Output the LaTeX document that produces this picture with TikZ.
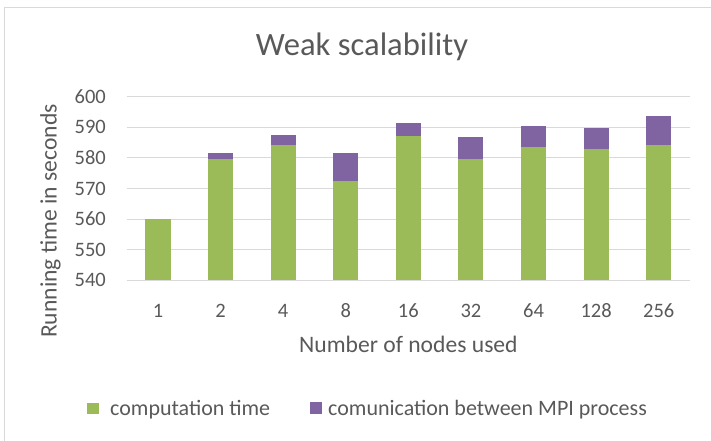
\documentclass[tikz,border=0pt]{standalone}
\usepackage{fontspec}
\setmainfont{Carlito}
\usepackage{tikz}

\definecolor{comp}{HTML}{9BBB59}
\definecolor{comm}{HTML}{8064A2}
\definecolor{txt}{HTML}{595959}
\definecolor{grid}{HTML}{D9D9D9}

\begin{document}
\begin{tikzpicture}
		[x=1pt,y=1pt,
		lbl/.style= {font=\fontsize{20.5}{24}\selectfont,text=txt,inner sep=0pt},
		ttl/.style= {font=\fontsize{23.6}{28}\selectfont,text=txt,inner sep=0pt},
		leg/.style= {font=\fontsize{22}{26}\selectfont,text=txt,inner sep=0pt,anchor=base west},
		sq/.style= {minimum width=12pt,minimum height=11.5pt,inner sep=0pt},
		gl/.style= {draw=grid,line width=1pt}]

		\useasboundingbox (0,0) rectangle (711,441);
		\draw[gl] (4.5,0) -- (4.5,433.5) -- (711,433.5);

		\node[font=\fontsize{32.6}{38}\selectfont,text=txt,inner sep=0pt,anchor=base] (title) at (362,385) {Weak scalability};

		\node[ttl,rotate=90,anchor=base] (ytitle) at (56.7,220) {Running time in seconds};
		\node[ttl,anchor=base] (xtitle) at (408.4,88) {Number of nodes used};

		% plot area, x = category, y = seconds above 540
		\begin{scope}[shift={(126.7,160.7)},x=62.59pt,y=3.06pt]
		\draw[gl] (0,0) -- (9,0);
		\draw[gl] (0,10) -- (9,10);
		\draw[gl] (0,20) -- (9,20);
		\draw[gl] (0,30) -- (9,30);
		\draw[gl] (0,40) -- (9,40);
		\draw[gl] (0,50) -- (9,50);
		\draw[gl] (0,60) -- (9,60);

		\node[lbl,anchor=east] (y540) at (-0.33,0) {540};
		\node[lbl,anchor=east] (y550) at (-0.33,10) {550};
		\node[lbl,anchor=east] (y560) at (-0.33,20) {560};
		\node[lbl,anchor=east] (y570) at (-0.33,30) {570};
		\node[lbl,anchor=east] (y580) at (-0.33,40) {580};
		\node[lbl,anchor=east] (y590) at (-0.33,50) {590};
		\node[lbl,anchor=east] (y600) at (-0.33,60) {600};

		% computation time
		\fill[comp] (0.3,0) rectangle (0.7,20);
		\fill[comp] (1.3,0) rectangle (1.7,39.5);
		\fill[comp] (2.3,0) rectangle (2.7,44.2);
		\fill[comp] (3.3,0) rectangle (3.7,32.4);
		\fill[comp] (4.3,0) rectangle (4.7,47);
		\fill[comp] (5.3,0) rectangle (5.7,39.5);
		\fill[comp] (6.3,0) rectangle (6.7,43.5);
		\fill[comp] (7.3,0) rectangle (7.7,43);
		\fill[comp] (8.3,0) rectangle (8.7,44.2);

		% communication
		\fill[comm] (1.3,39.5) rectangle (1.7,41.5);
		\fill[comm] (2.3,44.2) rectangle (2.7,47.4);
		\fill[comm] (3.3,32.4) rectangle (3.7,41.5);
		\fill[comm] (4.3,47) rectangle (4.7,51.3);
		\fill[comm] (5.3,39.5) rectangle (5.7,46.9);
		\fill[comm] (6.3,43.5) rectangle (6.7,50.5);
		\fill[comm] (7.3,43) rectangle (7.7,49.8);
		\fill[comm] (8.3,44.2) rectangle (8.7,53.8);

		\node[lbl] (x1) at (0.5,-10) {1};
		\node[lbl] (x2) at (1.5,-10) {2};
		\node[lbl] (x4) at (2.5,-10) {4};
		\node[lbl] (x8) at (3.5,-10) {8};
		\node[lbl] (x16) at (4.5,-10) {16};
		\node[lbl] (x32) at (5.5,-10) {32};
		\node[lbl] (x64) at (6.5,-10) {64};
		\node[lbl] (x128) at (7.5,-10) {128};
		\node[lbl] (x256) at (8.5,-10) {256};
		\end{scope}

		\node[sq,fill=comp] (sq1) at (93,32.5) {};
		\node[leg] (leg1) at (110,25) {computation time};
		\node[sq,fill=comm] (sq2) at (315.5,33) {};
		\node[leg] (leg2) at (328,25) {comunication between MPI process};

	\end{tikzpicture}
\end{document}
